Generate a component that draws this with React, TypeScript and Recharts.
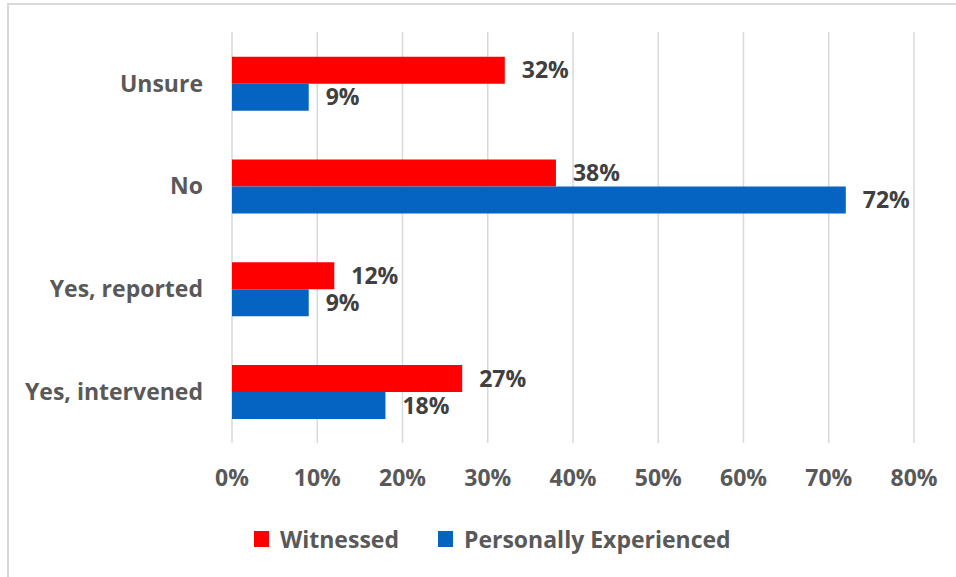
import React from 'react';
import { BarChart, Bar, XAxis, YAxis, CartesianGrid, Legend, LabelList } from 'recharts';

const categories = ['Unsure', 'No', 'Yes, reported', 'Yes, intervened'];
const witnessed = [32, 38, 12, 27];
const experienced = [9, 72, 9, 18];
const xTicks = [0, 10, 20, 30, 40, 50, 60, 70, 80];

const RED = '#FF0000';
const BLUE = '#0563C1';
const FONT = '"Open Sans", "Segoe UI", sans-serif';

const data = categories.map((name, i) => ({
  name,
  witnessed: witnessed[i],
  experienced: experienced[i],
}));

const legendItems = [
  { label: 'Witnessed', color: RED },
  { label: 'Personally Experienced', color: BLUE },
];

function LegendContent() {
  return (
    <div style={{ display: 'flex', alignItems: 'center', fontFamily: FONT, fontWeight: 700, fontSize: 23, color: '#595959' }}>
      {legendItems.map((it, i) => (
        <div key={it.label} style={{ display: 'flex', alignItems: 'center', marginRight: i === 0 ? 39 : 0 }}>
          <span style={{ display: 'inline-block', width: 15, height: 16, background: it.color, marginRight: 11 }} />
          <span>{it.label}</span>
        </div>
      ))}
    </div>
  );
}

const labelStyle = { fill: '#404040', fontSize: 23, fontWeight: 700, fontFamily: FONT };

export default function App() {
  return (
    <div style={{ position: 'absolute', left: 0, top: 0, width: 956, height: 577, background: '#fff', overflow: 'hidden' }}>
      <div
        style={{
          position: 'absolute',
          left: 7,
          top: 3,
          width: 960,
          height: 600,
          borderLeft: '2px solid #d9d9d9',
          borderTop: '2px solid #d9d9d9',
          boxSizing: 'border-box',
        }}
      />
      <div style={{ position: 'absolute', left: 0, top: 0 }}>
        <BarChart
          width={956}
          height={577}
          data={data}
          layout="vertical"
          margin={{ top: 32, right: 42, bottom: 24, left: 0 }}
          barCategoryGap="24%"
          barGap={0}
        >
          <CartesianGrid horizontal={false} stroke="#d9d9d9" strokeWidth={1.5} />
          <XAxis
            type="number"
            domain={[0, 80]}
            ticks={xTicks}
            tickFormatter={(v: number) => `${v}%`}
            axisLine={false}
            tickLine={false}
            tickSize={0}
            tickMargin={27}
            height={80}
            interval={0}
            tick={{ fill: '#595959', fontSize: 23, fontWeight: 700, fontFamily: FONT }}
          />
          <YAxis
            type="category"
            dataKey="name"
            width={232}
            axisLine={false}
            tickLine={false}
            tickSize={0}
            tickMargin={29}
            tick={{ fill: '#595959', fontSize: 23, fontWeight: 700, fontFamily: FONT }}
          />
          <Legend
            verticalAlign="bottom"
            content={<LegendContent />}
            wrapperStyle={{ left: 254, width: 560, height: 30 }}
          />
          <Bar dataKey="witnessed" name="Witnessed" fill={RED} isAnimationActive={false}>
            <LabelList dataKey="witnessed" position="right" offset={17} formatter={(v: number) => `${v}%`} style={labelStyle} />
          </Bar>
          <Bar dataKey="experienced" name="Personally Experienced" fill={BLUE} isAnimationActive={false}>
            <LabelList dataKey="experienced" position="right" offset={17} formatter={(v: number) => `${v}%`} style={labelStyle} />
          </Bar>
        </BarChart>
      </div>
    </div>
  );
}
